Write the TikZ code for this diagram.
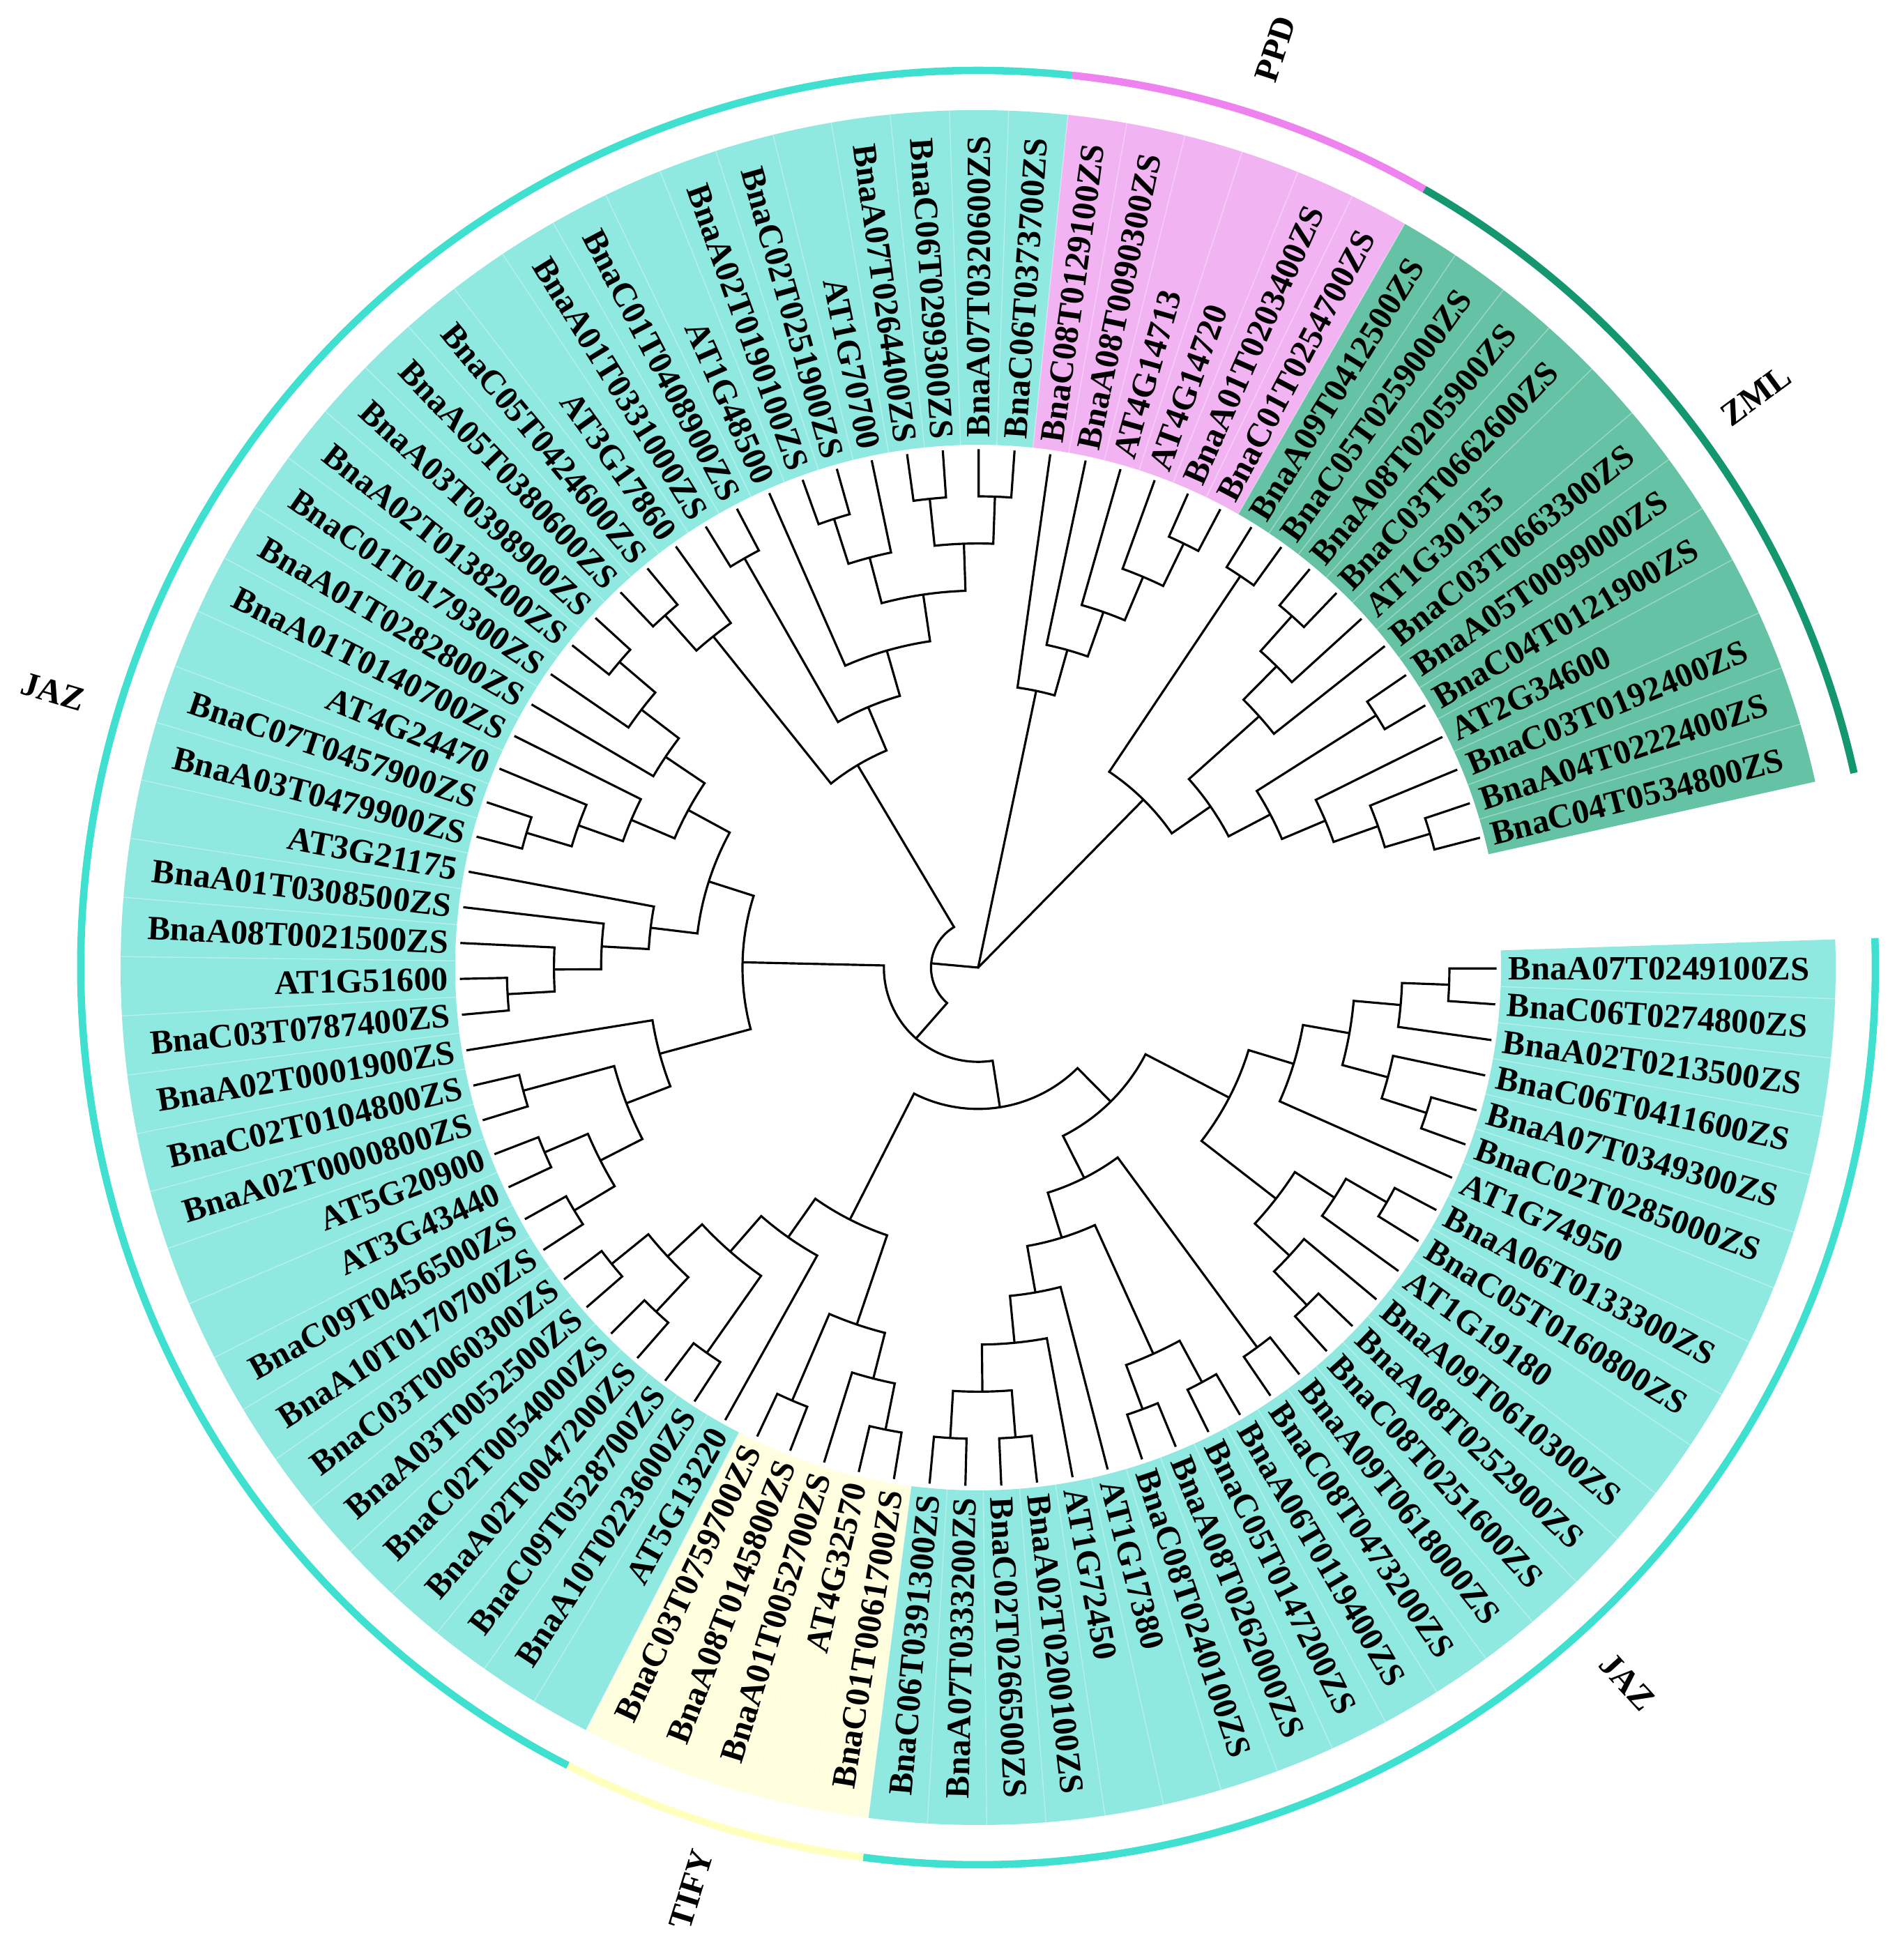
\documentclass[tikz,border=0pt]{standalone}
\usepackage{fontspec}
\setmainfont{Liberation Serif}
\usepackage{tikz}

\definecolor{jazfill}{RGB}{143,233,225}
\definecolor{jazring}{RGB}{64,224,208}
\definecolor{ppdfill}{RGB}{242,179,242}
\definecolor{ppdring}{RGB}{238,130,238}
\definecolor{zmlfill}{RGB}{102,194,164}
\definecolor{zmlring}{RGB}{20,150,110}
\definecolor{tifyfill}{RGB}{255,255,224}
\definecolor{tifyring}{RGB}{255,255,190}

% one level of the cladogram, in cm
\newcommand{\lv}{0.676}
% a clade: level, angle and level of child 1, angle and level of child 2
\newcommand{\clade}[5]{%
  \draw[branch] ({#2}:{#3*\lv}) -- ({#2}:{#1*\lv})
    arc[start angle={#2}, end angle={#4}, radius={#1*\lv}] -- ({#4}:{#5*\lv});}
% coloured range behind the labels
\newcommand{\grouprange}[3]{%
  \fill[#1] ({#2}:7.5) arc[start angle={#2}, end angle={#3}, radius=7.5]
    -- ({#3}:12.3) arc[start angle={#3}, end angle={#2}, radius=12.3] -- cycle;}
% outer ring of a group
\newcommand{\groupring}[3]{%
  \draw[ring, #1] ({#2}:12.87) arc[start angle={#2}, end angle={#3}, radius=12.87];}

\begin{document}
\begin{tikzpicture}[
	branch/.style={draw, line width=0.9pt},
	ring/.style={line width=3pt},
	leaf/.style={inner sep=0pt, font=\fontsize{13.9}{16}\selectfont\bfseries},
	group/.style={inner sep=0pt, font=\fontsize{13.9}{16}\selectfont\bfseries}
	]
	\useasboundingbox (-14.03,-14.05) rectangle (13.28,13.88);

	% Define ranges
	\grouprange{jazfill}{1.885}{-97.365}
	\grouprange{tifyfill}{-97.365}{-117.215}
	\grouprange{jazfill}{-117.215}{-276.015}
	\grouprange{ppdfill}{-276.015}{-299.835}
	\grouprange{zmlfill}{-299.835}{-347.475}
	\foreach \k in {1,...,87}
		\draw[white, opacity=0.35, line width=0.4pt] ({-0.1-3.97*\k+1.985}:7.5) -- ({-0.1-3.97*\k+1.985}:12.3);

	% Draw rings
	\groupring{jazring}{1.885}{-97.365}
	\groupring{tifyring}{-97.365}{-117.215}
	\groupring{jazring}{-117.215}{-276.015}
	\groupring{ppdring}{-276.015}{-299.835}
	\groupring{zmlring}{-299.835}{-347.475}

	% Define group labels
	\node[group, rotate=-16.615] (jazleft) at (-196.615:13.85) {JAZ};
	\node[group, rotate=72.075] (ppd) at (72.075:13.85) {PPD};
	\node[group, rotate=36.345] (zml) at (36.345:13.85) {ZML};
	\node[group, rotate=-47.74] (jazright) at (-47.74:13.85) {JAZ};
	\node[group, rotate=72.71] (tify) at (-107.29:13.85) {TIFY};

	% Define leaf labels
	\foreach \name [count=\k] in {
		BnaA07T0249100ZS, BnaC06T0274800ZS, BnaA02T0213500ZS, BnaC06T0411600ZS,
		BnaA07T0349300ZS, BnaC02T0285000ZS, AT1G74950, BnaA06T0133300ZS,
		BnaC05T0160800ZS, AT1G19180, BnaA09T0610300ZS, BnaA08T0252900ZS,
		BnaC08T0251600ZS, BnaA09T0618000ZS, BnaC08T0473200ZS, BnaA06T0119400ZS,
		BnaC05T0147200ZS, BnaA08T0262000ZS, BnaC08T0240100ZS, AT1G17380,
		AT1G72450, BnaA02T0200100ZS, BnaC02T0266500ZS, BnaA07T0333200ZS,
		BnaC06T0391300ZS, BnaC01T0061700ZS, AT4G32570, BnaA01T0052700ZS,
		BnaA08T0145800ZS, BnaC03T0759700ZS, AT5G13220, BnaA10T0223600ZS,
		BnaC09T0528700ZS, BnaA02T0047200ZS, BnaC02T0054000ZS, BnaA03T0052500ZS,
		BnaC03T0060300ZS, BnaA10T0170700ZS, BnaC09T0456500ZS, AT3G43440,
		AT5G20900, BnaA02T0000800ZS, BnaC02T0104800ZS, BnaA02T0001900ZS,
		BnaC03T0787400ZS, AT1G51600, BnaA08T0021500ZS, BnaA01T0308500ZS,
		AT3G21175, BnaA03T0479900ZS, BnaC07T0457900ZS, AT4G24470,
		BnaA01T0140700ZS, BnaA01T0282800ZS, BnaC01T0179300ZS, BnaA02T0138200ZS,
		BnaA03T0398900ZS, BnaA05T0380600ZS, BnaC05T0424600ZS, AT3G17860,
		BnaA01T0331000ZS, BnaC01T0408900ZS, AT1G48500, BnaA02T0190100ZS,
		BnaC02T0251900ZS, AT1G70700, BnaA07T0264400ZS, BnaC06T0299300ZS,
		BnaA07T0320600ZS, BnaC06T0373700ZS, BnaC08T0129100ZS, BnaA08T0090300ZS,
		AT4G14713, AT4G14720, BnaA01T0203400ZS, BnaC01T0254700ZS,
		BnaA09T0412500ZS, BnaC05T0259000ZS, BnaA08T0205900ZS, BnaC03T0662600ZS,
		AT1G30135, BnaC03T0663300ZS, BnaA05T0099000ZS, BnaC04T0121900ZS,
		AT2G34600, BnaC03T0192400ZS, BnaA04T0222400ZS, BnaC04T0534800ZS} {
		\pgfmathsetmacro{\ang}{-0.1-3.97*(\k-1)}
		\pgfmathtruncatemacro{\side}{cos(\ang)>0 ? 1 : 0}
		\ifnum\side=1
			\node[leaf, anchor=west, rotate=\ang] (l\k) at (\ang:7.6) {\name};
		\else
			\node[leaf, anchor=east, rotate=\ang+180] (l\k) at (\ang:7.6) {\name};
		\fi
	}

	% Draw tree: JAZ, right side
	\clade{10}{-0.10}{11}{-4.07}{11}
	\clade{9}{-2.085}{10}{-8.04}{11}
	\clade{10}{-15.98}{11}{-19.95}{11}
	\clade{9}{-12.01}{11}{-17.965}{10}
	\clade{8}{-5.0625}{9}{-14.9875}{9}
	\clade{7}{-10.025}{8}{-23.92}{11}
	\clade{10}{-27.89}{11}{-31.86}{11}
	\clade{9}{-29.875}{10}{-35.83}{11}
	\clade{10}{-43.77}{11}{-47.74}{11}
	\clade{9}{-39.80}{11}{-45.755}{10}
	\clade{8}{-32.8525}{9}{-42.7775}{9}
	\clade{6}{-16.9725}{7}{-37.815}{8}
	\clade{10}{-51.71}{11}{-55.68}{11}
	\clade{10}{-59.65}{11}{-63.62}{11}
	\clade{10}{-67.59}{11}{-71.56}{11}
	\clade{9}{-61.635}{10}{-69.575}{10}
	\clade{10}{-83.47}{11}{-87.44}{11}
	\clade{10}{-91.41}{11}{-95.38}{11}
	\clade{9}{-85.455}{10}{-93.395}{10}
	\clade{8}{-79.50}{11}{-89.425}{9}
	\clade{7}{-75.53}{11}{-84.4625}{8}
	\clade{6}{-65.605}{9}{-79.99625}{7}
	\clade{5}{-53.695}{10}{-72.8006}{6}
	\clade{4}{-63.2478}{5}{-27.39375}{6}
	% TIFY
	\clade{10}{-99.35}{11}{-103.32}{11}
	\clade{9}{-101.335}{10}{-107.29}{11}
	\clade{10}{-111.26}{11}{-115.23}{11}
	\clade{8}{-104.3125}{9}{-113.245}{10}
	% JAZ, lower left
	\clade{10}{-123.17}{11}{-127.14}{11}
	\clade{10}{-131.11}{11}{-135.08}{11}
	\clade{10}{-139.05}{11}{-143.02}{11}
	\clade{9}{-133.095}{10}{-141.035}{10}
	\clade{8}{-125.155}{10}{-137.065}{9}
	\clade{7}{-119.20}{11}{-131.11}{8}
	\clade{6}{-108.77875}{8}{-125.155}{7}
	\clade{3}{-45.3208}{4}{-116.966875}{6}
	% JAZ, left
	\clade{10}{-146.99}{11}{-150.96}{11}
	\clade{10}{-154.93}{11}{-158.90}{11}
	\clade{9}{-148.975}{10}{-156.915}{10}
	\clade{10}{-162.87}{11}{-166.84}{11}
	\clade{8}{-152.945}{9}{-164.855}{10}
	\clade{7}{-158.9}{8}{-170.81}{11}
	\clade{10}{-174.78}{11}{-178.75}{11}
	\clade{9}{-176.765}{10}{-182.72}{11}
	\clade{8}{-179.7425}{9}{-186.69}{11}
	\clade{7}{-183.21625}{8}{-190.66}{11}
	\clade{10}{-194.63}{11}{-198.60}{11}
	\clade{9}{-196.615}{10}{-202.57}{11}
	\clade{8}{-199.5925}{9}{-206.54}{11}
	\clade{10}{-218.45}{11}{-222.42}{11}
	\clade{9}{-214.48}{11}{-220.435}{10}
	\clade{8}{-210.51}{11}{-217.4575}{9}
	\clade{7}{-203.06625}{8}{-213.98375}{8}
	\clade{6}{-186.938}{7}{-208.525}{7}
	\clade{5}{-164.855}{7}{-197.7316}{6}
	\clade{2}{-81.1438}{3}{-181.2933}{5}
	% JAZ, top left
	\clade{10}{-226.39}{11}{-230.36}{11}
	\clade{9}{-228.375}{10}{-234.33}{11}
	\clade{10}{-238.30}{11}{-242.27}{11}
	\clade{10}{-250.21}{11}{-254.18}{11}
	\clade{9}{-252.195}{10}{-258.15}{11}
	\clade{10}{-262.12}{11}{-266.09}{11}
	\clade{10}{-270.06}{11}{-274.03}{11}
	\clade{9}{-264.105}{10}{-272.045}{10}
	\clade{8}{-255.1725}{9}{-268.075}{9}
	\clade{7}{-246.24}{11}{-261.62375}{8}
	\clade{6}{-240.285}{10}{-253.931875}{7}
	\clade{5}{-231.3525}{9}{-247.1084}{6}
	\clade{1}{-131.2186}{2}{-239.2305}{5}
	% PPD
	\clade{10}{-293.88}{11}{-297.85}{11}
	\clade{9}{-289.91}{11}{-295.865}{10}
	\clade{8}{-285.94}{11}{-292.8875}{9}
	\clade{7}{-281.97}{11}{-289.41375}{8}
	\clade{6}{-278.00}{11}{-285.691875}{7}
	% ZML
	\clade{10}{-301.82}{11}{-305.79}{11}
	\clade{10}{-309.76}{11}{-313.73}{11}
	\clade{9}{-311.745}{10}{-317.70}{11}
	\clade{8}{-314.7225}{9}{-321.67}{11}
	\clade{10}{-325.64}{11}{-329.61}{11}
	\clade{10}{-341.52}{11}{-345.49}{11}
	\clade{9}{-337.55}{11}{-343.505}{10}
	\clade{8}{-333.58}{11}{-340.5275}{9}
	\clade{7}{-327.625}{10}{-337.05375}{8}
	\clade{6}{-318.19625}{8}{-332.339}{7}
	\clade{5}{-303.805}{10}{-325.2676}{6}
	% root
	\coordinate (root) at (0,0);
	\draw[branch] (-185.2245:{1*\lv}) -- (root) -- (-281.8459:{6*\lv});
	\draw[branch] (root) -- (-314.5363:{5*\lv});
\end{tikzpicture}
\end{document}
